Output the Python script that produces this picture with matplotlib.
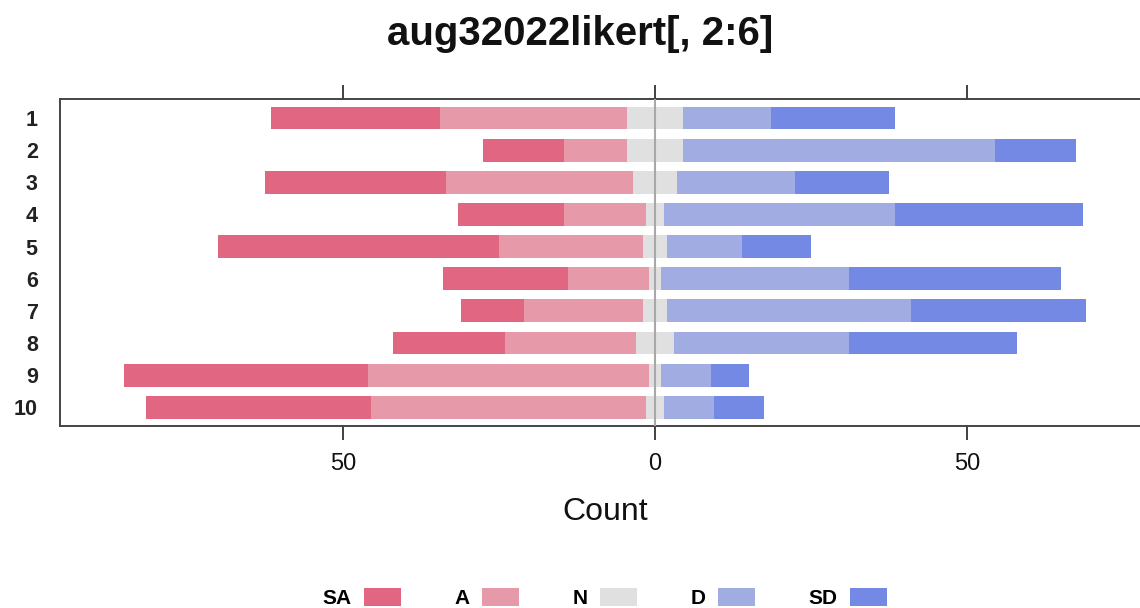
import numpy as np
import matplotlib
matplotlib.use("Agg")
import matplotlib.pyplot as plt

plt.rcParams['font.family'] = ['Liberation Sans', 'DejaVu Sans']

# ---- data ----
rows = [1, 2, 3, 4, 5, 6, 7, 8, 9, 10]
row_labels = ['1', '2', '3', '4', '5', '6', '7', '8', '9', '10']
levels = ['SA', 'A', 'N', 'D', 'SD']
SA = [27, 13, 29, 17, 45, 20, 10, 18, 39, 36]
A = [30, 10, 30, 13, 23, 13, 19, 21, 45, 44]
N = [9, 9, 7, 3, 4, 2, 4, 6, 2, 3]
D = [14, 50, 19, 37, 12, 30, 39, 28, 8, 8]
SD = [20, 13, 15, 30, 11, 34, 28, 27, 6, 8]
colors = ['#E16682', '#E699A8', '#E0E0E0', '#A1ACE3', '#7489E4']
xticks = [-50, 0, 50]
xticklabels = ['50', '0', '50']
title = 'aug32022likert[, 2:6]'
xlabel = 'Count'

W, H = 1140, 608
fig = plt.figure(figsize=(W / 100, H / 100), dpi=100)
ax_l, ax_r, ax_t, ax_b = 60, 1250, 99, 425.5
ax = fig.add_axes([ax_l / W, 1 - ax_b / H, (ax_r - ax_l) / W, (ax_b - ax_t) / H])

y = np.array(rows, dtype=float)
sa, a, n, d, sd = (np.array(v, dtype=float) for v in (SA, A, N, D, SD))
half = n / 2
h = 0.71
bars = []
bars.append(ax.barh(y, sa, left=-(half + a + sa), height=h, color=colors[0], linewidth=0))
bars.append(ax.barh(y, a, left=-(half + a), height=h, color=colors[1], linewidth=0))
bars.append(ax.barh(y, n, left=-half, height=h, color=colors[2], linewidth=0))
bars.append(ax.barh(y, d, left=half, height=h, color=colors[3], linewidth=0))
bars.append(ax.barh(y, sd, left=half + d, height=h, color=colors[4], linewidth=0))

ax.axvline(0, color='#A8A8A8', lw=1.5, zorder=3)

ax.set_xlim(-95.3, 95.3)
ax.set_ylim(10.566, 0.409)

ax.set_xticks(xticks)
ax.set_xticklabels(xticklabels)
ax.set_yticks(rows)
ax.set_yticklabels(row_labels, fontweight='bold')
ax.tick_params(axis='x', direction='out', length=10, width=1.3, color='#333333',
               top=True, labeltop=False, pad=10, labelsize=17, labelcolor='#111111')
ax.tick_params(axis='y', length=0, pad=16, labelsize=15.5, labelcolor='#222222')
for s in ax.spines.values():
    s.set_linewidth(1.4)
    s.set_color('#444444')

fig.text(580 / W, 1 - 34 / H, title, ha='center', va='center', fontsize=29,
         fontweight='bold', color='#111111')
fig.text(605 / W, 1 - 512 / H, xlabel, ha='center', va='center', fontsize=23,
         color='#111111')

fs = 15
leg = fig.legend([b.patches[0] for b in bars], levels, loc='center',
                 bbox_to_anchor=(604.5 / W, 1 - 598 / H), ncol=5, frameon=False,
                 markerfirst=False, fontsize=fs, handlelength=37 / (fs * 1.389),
                 handleheight=20 / (fs * 1.389), handletextpad=12 / (fs * 1.389),
                 columnspacing=54 / (fs * 1.389), borderpad=0, borderaxespad=0,
                 prop={'weight': 'bold', 'size': fs})

fig.savefig('out.png', dpi=100, facecolor='white')
